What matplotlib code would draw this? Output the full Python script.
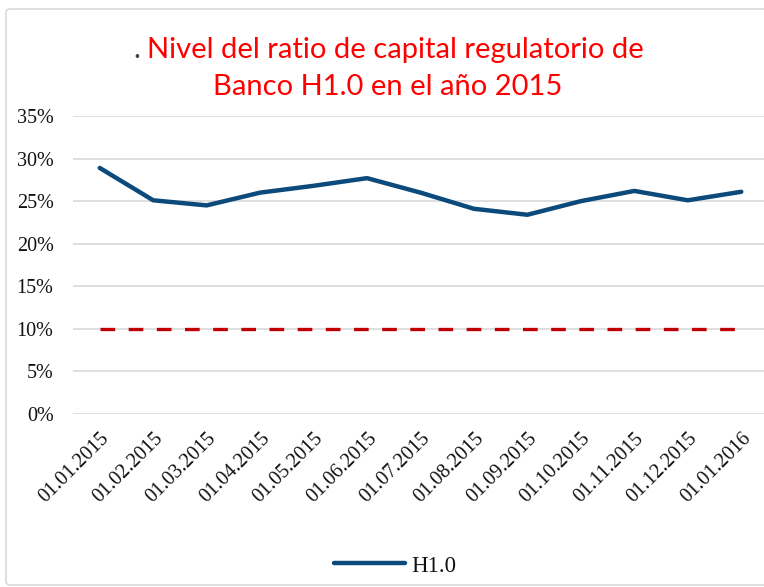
import numpy as np
import matplotlib
matplotlib.use("Agg")
import matplotlib.pyplot as plt
from matplotlib.patches import FancyBboxPatch
from matplotlib.ticker import PercentFormatter

# fechas y valores del ratio H1.0
dates = ['01.01.2015', '01.02.2015', '01.03.2015', '01.04.2015', '01.05.2015',
         '01.06.2015', '01.07.2015', '01.08.2015', '01.09.2015', '01.10.2015',
         '01.11.2015', '01.12.2015', '01.01.2016']
h10 = [0.289, 0.251, 0.245, 0.260, 0.268, 0.277, 0.260, 0.241, 0.234, 0.250,
       0.262, 0.251, 0.261]
minimum = [0.10] * len(dates)
yticks = [0, 0.05, 0.10, 0.15, 0.20, 0.25, 0.30, 0.35]

W, H = 764, 587
fig = plt.figure(figsize=(W / 100, H / 100), dpi=100)

# marco del grafico
frame = FancyBboxPatch((6 / W, 2 / H), (W + 10) / W, (H - 11) / H,
                       boxstyle="round,pad=0,rounding_size=0.006",
                       transform=fig.transFigure, fill=False,
                       edgecolor='#d9d9d9', linewidth=1.2)
fig.patches.append(frame)

ax = fig.add_axes([73 / W, (H - 414) / H, (768 - 73) / W, (414 - 116) / H])
x = np.arange(len(dates))
ax.plot(x, h10, color='#0b4a7b', linewidth=3.2, solid_capstyle='round',
        label='H1.0', zorder=3)
ax.plot(x, minimum, color='#c00000', linewidth=2.4, dashes=(4.4, 4.05),
        dash_capstyle='butt', zorder=3)

ax.set_xlim(-0.5, len(dates) - 0.5)
ax.set_ylim(0, 0.35)
ax.set_yticks(yticks)
ax.yaxis.set_major_formatter(PercentFormatter(1.0, decimals=0))
ax.set_xticks(x)
ax.set_xticklabels(dates, rotation=45, ha='right', va='top',
                   rotation_mode='anchor')
for lab in ax.get_xticklabels() + ax.get_yticklabels():
    lab.set_fontfamily('Liberation Serif')
    lab.set_fontsize(14.5)
    lab.set_color('#111111')
ax.tick_params(axis='y', length=0, pad=14)
ax.tick_params(axis='x', length=0, pad=11)
ax.grid(axis='y', color='#d9d9d9', linewidth=1.2)
ax.set_axisbelow(True)
for s in ax.spines.values():
    s.set_visible(False)

# titulo
t1 = fig.text(395 / W, 1 - 58 / H, 'Nivel del ratio de capital regulatorio de',
              color='#ff0000', fontsize=21, fontfamily='Lato', ha='center',
              va='baseline')
fig.text(388 / W, 1 - 95 / H, 'Banco H1.0 en el año 2015',
         color='#ff0000', fontsize=21, fontfamily='Lato', ha='center',
         va='baseline')
fig.canvas.draw()
ax.annotate('.', xy=(-0.012, 0), xycoords=t1, ha='right', va='bottom',
            color='#404040', fontsize=21, fontfamily='Lato')

leg = fig.legend(loc='center', bbox_to_anchor=(395 / W, 1 - 566 / H),
                 frameon=False, handlelength=3.1, handletextpad=0.25,
                 prop={'family': 'Liberation Serif', 'size': 16.5})
for t in leg.get_texts():
    t.set_color('#111111')

fig.savefig('out.png', dpi=100)
